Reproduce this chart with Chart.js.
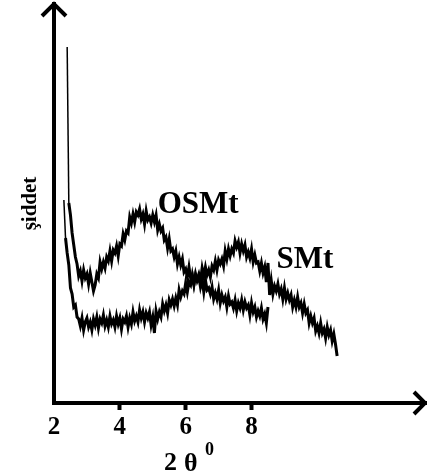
<!DOCTYPE html>
<html><head><meta charset="utf-8">
<script src="https://cdn.jsdelivr.net/npm/chart.js@4"></script>
<style>html,body{margin:0;padding:0;background:#fff}#wrap{width:427px;height:476px}</style>
</head><body><div id="wrap"><canvas id="c"></canvas></div>
<script>
// 2θ sampling grid (degrees)
const twoTheta = [
2.30,2.35,2.40,2.45,2.50,2.55,2.60,2.65,2.70,2.75,2.80,2.85,2.90,2.95,
3.00,3.05,3.10,3.15,3.20,3.25,3.30,3.35,3.40,3.45,3.50,3.55,3.60,3.65,3.70,3.75,3.80,3.85,3.90,3.95,
4.00,4.05,4.10,4.15,4.20,4.25,4.30,4.35,4.40,4.45,4.50,4.55,4.60,4.65,4.70,4.75,4.80,4.85,4.90,4.95,
5.00,5.05,5.10,5.15,5.20,5.25,5.30,5.35,5.40,5.45,5.50,5.55,5.60,5.65,5.70,5.75,5.80,5.85,5.90,5.95,
6.00,6.05,6.10,6.15,6.20,6.25,6.30,6.35,6.40,6.45,6.50,6.55,6.60,6.65,6.70,6.75,6.80,6.85,6.90,6.95,
7.00,7.05,7.10,7.15,7.20,7.25,7.30,7.35,7.40,7.45,7.50,7.55,7.60,7.65,7.70,7.75,7.80,7.85,7.90,7.95,
8.00,8.05,8.10,8.15,8.20,8.25,8.30,8.35,8.40,8.45,8.50,8.55,8.60,8.65,8.70,8.75,8.80,8.85,8.90,8.95,
9.00,9.05,9.10,9.15,9.20,9.25,9.30,9.35,9.40,9.45,9.50,9.55,9.60,9.65,9.70,9.75,9.80,9.85,9.90,9.95,
10.00,10.05,10.10,10.15,10.20,10.25,10.30,10.35,10.40,10.45,10.50,10.55,10.60
];
// OSMt intensity (arb. units), from 2.30 to 8.50
const osmtCounts = [
null,null,356,200,188,170,158,146,139,127,132,122,133,125,
129,119,130,121,112,118,129,125,141,134,141,135,146,142,152,142,153,150,157,147,
159,157,169,163,172,170,186,180,189,181,191,188,194,184,189,179,192,183,186,180,
188,181,188,173,179,172,175,163,166,155,164,152,154,146,152,139,146,138,144,131,
134,126,136,125,128,119,129,122,126,116,123,111,123,113,115,109,116,104,110,104,
113,100,108,102,106,96,107,99,101,95,103,92,100,95,103,93,101,95,98,88,
100,91,96,86,92,87,95,84,89,80,96
];
// SMt intensity (arb. units), from 2.30 to 10.60
const smtCounts = [
203,165,150,138,115,109,96,98,86,84,77,85,73,81,
85,76,81,73,84,78,86,75,84,80,88,77,83,76,87,79,83,76,87,79,
85,74,84,81,87,76,85,79,91,82,87,81,93,85,91,81,90,85,91,78,
86,70,92,84,91,86,99,92,98,90,103,98,104,97,105,98,113,106,112,109,
120,111,121,118,128,118,128,124,129,122,135,127,136,128,133,126,137,133,142,133,
143,139,144,137,152,144,154,147,154,150,162,156,161,150,159,152,158,146,151,145,
154,141,148,140,141,132,140,130,136,121,140,108,122,109,117,112,119,109,114,104,
115,104,110,103,108,96,103,96,106,96,100,90,99,90,93,80,87,80,85,72,
77,70,80,70,74,65,76,68,73,62,69,59,47
];
const seriesNames = ['OSMt', 'SMt'];
const xTickValues = [2, 4, 6, 8];
const yAxisTitle = 'şiddet';
const xAxisTitle = ['2', 'θ', '0'];

function toPoints(vals) {
  const out = [];
  for (let i = 0; i < vals.length; i++) out.push({x: twoTheta[i], y: vals[i]});
  return out;
}

const SERIF = '"Liberation Serif","Times New Roman",serif';

const decor = {
  id: 'decor',
  afterDraw(chart, args, opts) {
    const {ctx, chartArea: a, scales: {x, y}} = chart;
    ctx.save();
    ctx.strokeStyle = '#000';
    ctx.lineWidth = 4;
    ctx.lineJoin = 'miter';
    ctx.beginPath();
    ctx.moveTo(a.left - 12, a.top + 12);
    ctx.lineTo(a.left, a.top);
    ctx.lineTo(a.left + 12, a.top + 12);
    ctx.stroke();
    const tx = a.right - 2;
    ctx.beginPath();
    ctx.moveTo(tx - 11, a.bottom - 11);
    ctx.lineTo(tx, a.bottom);
    ctx.lineTo(tx - 11, a.bottom + 11);
    ctx.stroke();
    ctx.fillStyle = '#000';
    ctx.textAlign = 'left';
    ctx.textBaseline = 'alphabetic';
    ctx.font = 'bold 31px ' + SERIF;
    opts.labels.forEach((l, i) => {
      ctx.fillText(seriesNames[i], x.getPixelForValue(l[0]), y.getPixelForValue(l[1]));
    });
    ctx.font = 'bold 26px ' + SERIF;
    ctx.fillText(xAxisTitle[0], 164, 470);
    ctx.fillText(xAxisTitle[1], 184, 471);
    ctx.font = 'bold 18px ' + SERIF;
    ctx.fillText(xAxisTitle[2], 205, 455);
    ctx.restore();
  }
};

new Chart(document.getElementById('c'), {
  type: 'line',
  data: {
    datasets: [
      {label: seriesNames[0], data: toPoints(osmtCounts), borderColor: '#000', borderWidth: 3, pointRadius: 0, fill: false, tension: 0,
       segment: {borderWidth: c => c.p0DataIndex <= 2 ? 1.5 : 3}},
      {label: seriesNames[1], data: toPoints(smtCounts), borderColor: '#000', borderWidth: 3, pointRadius: 0, fill: false, tension: 0,
       segment: {borderWidth: c => c.p0DataIndex <= 0 ? 1.5 : 3}}
    ]
  },
  options: {
    responsive: true,
    maintainAspectRatio: false,
    animation: false,
    layout: {padding: {top: 4, right: 0, left: 0, bottom: 0}},
    plugins: {
      legend: {display: false},
      tooltip: {enabled: false},
      decor: {labels: [[5.15, 190], [8.76, 135]]}
    },
    scales: {
      x: {
        type: 'linear',
        min: 2,
        max: 13.33,
        afterBuildTicks: s => { s.ticks = xTickValues.map(v => ({value: v})); },
        afterFit: s => { s.height = 73; },
        ticks: {
          color: '#000',
          font: {family: SERIF, size: 25, weight: 'bold'},
          padding: 3,
          maxRotation: 0,
          autoSkip: false
        },
        grid: {
          display: true,
          drawOnChartArea: false,
          drawTicks: true,
          tickLength: 7,
          tickWidth: 4,
          tickColor: c => (c.tick && c.tick.value === 2) ? 'rgba(0,0,0,0)' : '#000'
        },
        border: {display: true, color: '#000', width: 4}
      },
      y: {
        min: 0,
        max: 399,
        afterFit: s => { s.width = 54; },
        ticks: {display: false},
        grid: {display: false},
        border: {display: true, color: '#000', width: 4},
        title: {
          display: true,
          text: yAxisTitle,
          color: '#000',
          font: {family: SERIF, size: 21, weight: 'bold'},
          padding: {top: 18, bottom: 0}
        }
      }
    }
  },
  plugins: [decor]
});
</script>
</body></html>
